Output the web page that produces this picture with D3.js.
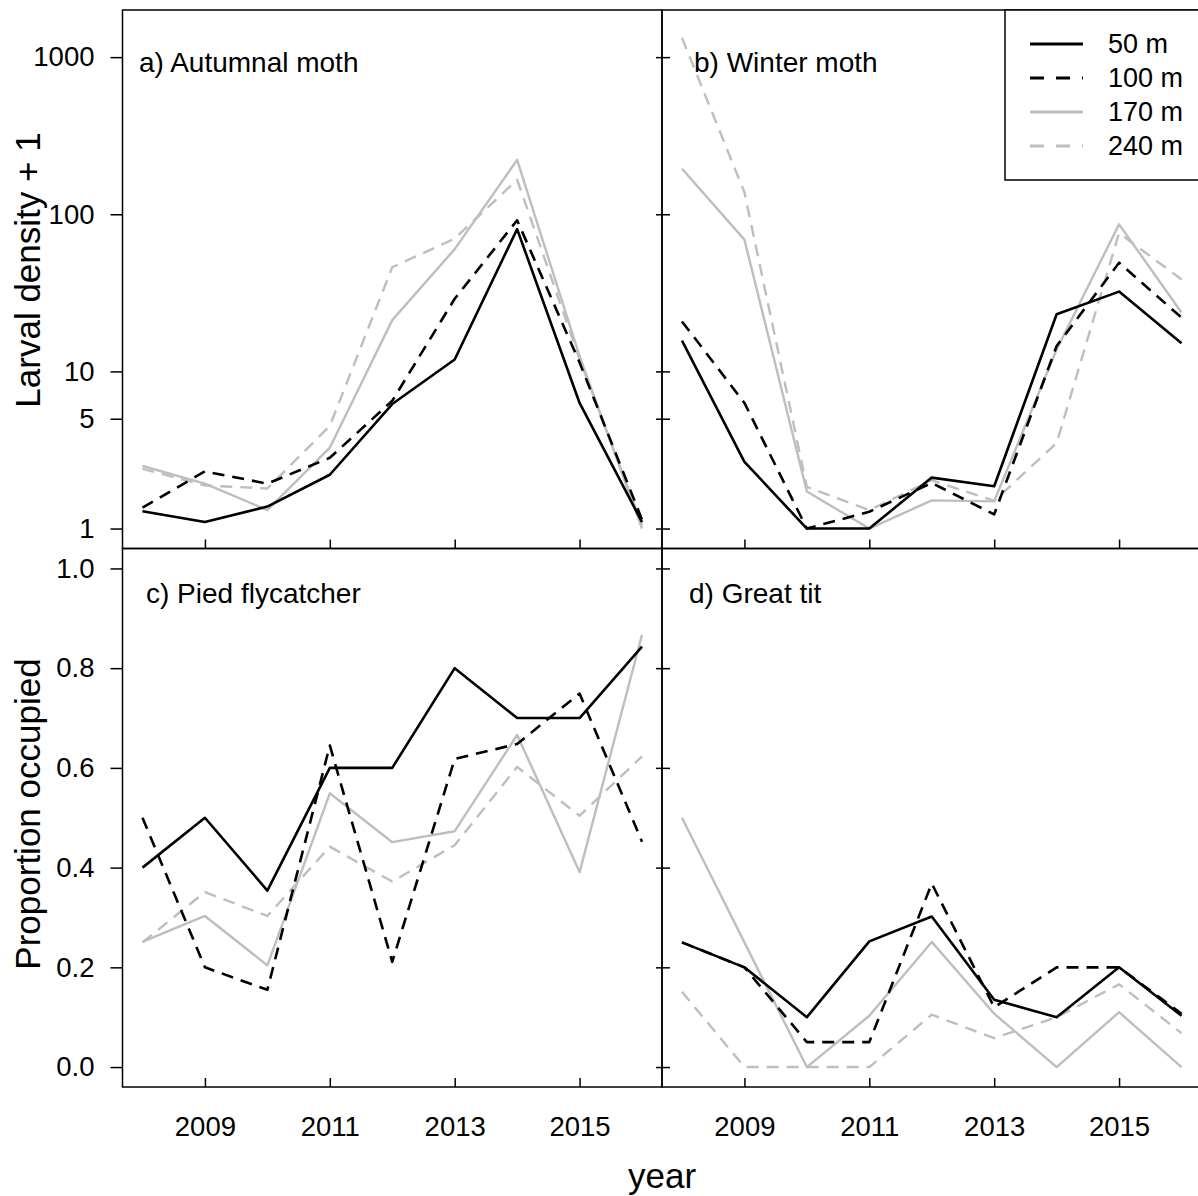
<!DOCTYPE html>
<html lang="en">
<head>
<meta charset="UTF-8">
<title>Larval density and nest box occupancy by elevation</title>
<script src="https://d3js.org/d3.v7.min.js"></script>
<style>
  body { margin: 0; background: #fff; }
  svg { display: block; font-family: "Liberation Sans", Arial, sans-serif; }
  .tick text { font-size: 27.5px; fill: #000; }
  .tick line { stroke: #000; stroke-width: 1.5; }
</style>
</head>
<body>
<svg id="plot" width="1198" height="1196"></svg>
<script>
// survey years and elevation classes
const years = [2008, 2009, 2010, 2011, 2012, 2013, 2014, 2015, 2016];
const elevations = ["50 m", "100 m", "170 m", "240 m"];
const yearTicks = [2009, 2011, 2013, 2015];
const densityTicks = [1, 5, 10, 100, 1000];
const proportionTicks = [0, 0.2, 0.4, 0.6, 0.8, 1.0];

// a) Autumnal moth - larval density + 1
const autumnal50  = [1.29, 1.1, 1.38, 2.2, 6.2, 11.9, 80.5, 6.3, 1.1];
const autumnal100 = [1.36, 2.31, 1.93, 2.82, 6.5, 29, 91.6, 11.4, 1.14];
const autumnal170 = [2.5, 1.93, 1.31, 3.27, 21.2, 60, 222, 12.5, 1.0];
const autumnal240 = [2.4, 1.88, 1.8, 4.5, 46, 70, 166, 12, 1.05];

// b) Winter moth - larval density + 1
const winter50  = [15.7, 2.66, 1.0, 1.0, 2.11, 1.86, 23.1, 32.2, 15.1];
const winter100 = [20.8, 6.3, 1.0, 1.28, 1.95, 1.23, 14.5, 49.2, 22];
const winter170 = [195, 69, 1.72, 1.0, 1.51, 1.49, 13.8, 86.3, 23.7];
const winter240 = [1327, 138, 1.84, 1.31, 2.03, 1.5, 3.5, 76, 38.5];

// c) Pied flycatcher - proportion of nest boxes occupied
const pied50  = [0.40, 0.50, 0.354, 0.60, 0.60, 0.80, 0.70, 0.70, 0.843];
const pied100 = [0.50, 0.20, 0.155, 0.645, 0.211, 0.618, 0.648, 0.749, 0.452];
const pied170 = [0.251, 0.303, 0.204, 0.549, 0.451, 0.473, 0.666, 0.391, 0.867];
const pied240 = [0.25, 0.351, 0.303, 0.442, 0.372, 0.445, 0.602, 0.504, 0.623];

// d) Great tit - proportion of nest boxes occupied
const tit50  = [0.25, 0.20, 0.10, 0.252, 0.302, 0.135, 0.10, 0.20, 0.103];
const tit100 = [0.25, 0.20, 0.05, 0.05, 0.368, 0.12, 0.20, 0.20, 0.107];
const tit170 = [0.50, 0.25, 0.0, 0.103, 0.251, 0.107, 0.0, 0.11, 0.0];
const tit240 = [0.151, 0.0, 0.0, 0.0, 0.105, 0.058, 0.10, 0.166, 0.068];

const svg = d3.select("#plot");

const leftX = 122.5, midX = 662, topY = 10, midY = 548.5;
const panelW = midX - leftX, panelH = 538.5;

// line style per elevation: black / grey, solid / dashed
const styles = [
  { color: "#000",    width: 2.6, dash: null },
  { color: "#000",    width: 2.6, dash: "12,8" },
  { color: "#bebebe", width: 2.4, dash: null },
  { color: "#bebebe", width: 2.4, dash: "12,8" }
];

const x = d3.scaleLinear().domain([2007.68, 2016.32]).range([0, panelW]);
const yLog = d3.scaleLog().domain([Math.pow(10, -0.127), Math.pow(10, 3.30)]).range([panelH, 0]);
const yLin = d3.scaleLinear().domain([-0.04, 1.04]).range([panelH, 0]);

const panels = [
  { x0: leftX, y0: topY, y: yLog, ticks: densityTicks, fmt: d3.format("d"),
    title: "a) Autumnal moth", tx: 16.5, ty: 62, left: true, bottom: false,
    series: [autumnal50, autumnal100, autumnal170, autumnal240] },
  { x0: midX, y0: topY, y: yLog, ticks: densityTicks, fmt: d3.format("d"),
    title: "b) Winter moth", tx: 32, ty: 62, left: false, bottom: false,
    series: [winter50, winter100, winter170, winter240] },
  { x0: leftX, y0: midY, y: yLin, ticks: proportionTicks, fmt: d3.format(".1f"),
    title: "c) Pied flycatcher", tx: 23.5, ty: 54, left: true, bottom: true,
    series: [pied50, pied100, pied170, pied240] },
  { x0: midX, y0: midY, y: yLin, ticks: proportionTicks, fmt: d3.format(".1f"),
    title: "d) Great tit", tx: 27, ty: 54, left: false, bottom: true,
    series: [tit50, tit100, tit170, tit240] }
];

panels.forEach(p => {
  const g = svg.append("g").attr("transform", `translate(${p.x0},${p.y0})`);

  const line = d3.line()
    .x((d, i) => x(years[i]))
    .y(d => p.y(d));

  // grey lines first so the black ones sit on top
  [3, 2, 1, 0].forEach(k => {
    g.append("path")
      .datum(p.series[k])
      .attr("d", line)
      .attr("fill", "none")
      .attr("stroke", styles[k].color)
      .attr("stroke-width", styles[k].width)
      .attr("stroke-dasharray", styles[k].dash)
      .attr("stroke-linejoin", "round");
  });

  // y axis
  if (p.left) {
    g.append("g")
      .call(d3.axisLeft(p.y).tickValues(p.ticks).tickFormat(p.fmt).tickSize(12).tickPadding(16))
      .call(a => a.select(".domain").remove());
    g.append("g")
      .attr("transform", `translate(${panelW},0)`)
      .call(d3.axisRight(p.y).tickValues(p.ticks).tickFormat("").tickSize(-6))
      .call(a => a.select(".domain").remove());
  } else {
    g.append("g")
      .call(d3.axisLeft(p.y).tickValues(p.ticks).tickFormat("").tickSize(-8))
      .call(a => a.select(".domain").remove());
  }

  // x axis, ticks pointing inward
  g.append("g")
    .attr("transform", `translate(0,${panelH})`)
    .call(d3.axisBottom(x).tickValues(yearTicks)
      .tickFormat(p.bottom ? d3.format("d") : "")
      .tickSize(-9).tickPadding(29))
    .call(a => a.select(".domain").remove());

  g.append("rect")
    .attr("width", panelW).attr("height", panelH)
    .attr("fill", "none")
    .attr("stroke", "#000")
    .attr("stroke-width", 1.5);

  g.append("text")
    .attr("x", p.tx).attr("y", p.ty)
    .attr("font-size", 28)
    .text(p.title);
});

// legend in panel b
const legend = svg.append("g");
legend.append("rect")
  .attr("x", 1005).attr("y", topY)
  .attr("width", 220).attr("height", 170)
  .attr("fill", "#fff")
  .attr("stroke", "#000")
  .attr("stroke-width", 1.5);

elevations.forEach((name, i) => {
  const ly = 44 + i * 34;
  legend.append("line")
    .attr("x1", 1030).attr("x2", 1083)
    .attr("y1", ly).attr("y2", ly)
    .attr("stroke", styles[i].color)
    .attr("stroke-width", styles[i].width + 0.4)
    .attr("stroke-dasharray", styles[i].dash ? "14,12" : null);
  legend.append("text")
    .attr("x", 1108).attr("y", ly)
    .attr("dy", "0.35em")
    .attr("font-size", 27)
    .text(name);
});

// axis titles
svg.append("text")
  .attr("transform", "translate(40,270) rotate(-90)")
  .attr("text-anchor", "middle")
  .attr("font-size", 35)
  .text("Larval density + 1");

svg.append("text")
  .attr("transform", "translate(40,814) rotate(-90)")
  .attr("text-anchor", "middle")
  .attr("font-size", 35)
  .text("Proportion occupied");

svg.append("text")
  .attr("x", midX).attr("y", 1188)
  .attr("text-anchor", "middle")
  .attr("font-size", 35)
  .text("year");
</script>
</body>
</html>
